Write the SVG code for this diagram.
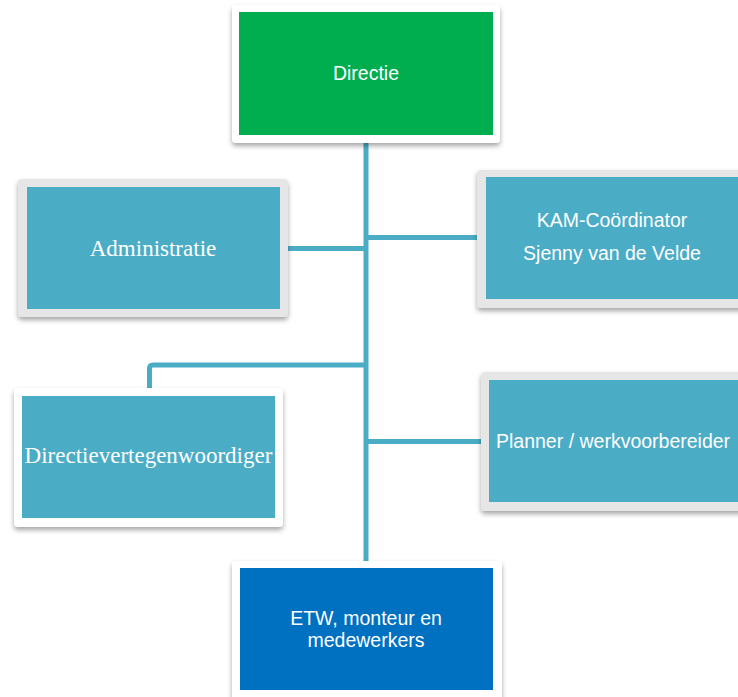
<svg xmlns="http://www.w3.org/2000/svg" width="738" height="697" viewBox="0 0 738 697">
<defs>
<filter id="sh" x="-10%" y="-10%" width="120%" height="130%">
<feDropShadow dx="0" dy="3" stdDeviation="2.5" flood-color="#000" flood-opacity="0.35"/>
</filter>
<style>
.cw{fill:#ffffff;filter:url(#sh)}
.cg{fill:#e6e6e6;filter:url(#sh)}
.teal{fill:#4bacc6}
.t{fill:#ffffff;font-family:"Liberation Sans",Arial,sans-serif;font-size:19.5px;text-anchor:middle}
.ts{fill:#ffffff;font-family:"Liberation Serif","Times New Roman",serif;font-size:23px;text-anchor:middle}
.ln{stroke:#4bacc6;stroke-width:5;fill:none}
</style>
</defs>
<rect width="738" height="697" fill="#ffffff"/>
<g id="connectors">
<line class="ln" x1="366" y1="140" x2="366" y2="564"/>
<line class="ln" x1="285" y1="248.5" x2="366" y2="248.5"/>
<line class="ln" x1="366" y1="237.5" x2="480" y2="237.5"/>
<path class="ln" d="M366 365 H153 Q149.5 365 149.5 368.5 V392"/>
<line class="ln" x1="366" y1="441.5" x2="484" y2="441.5"/>
</g>
<g id="directie">
<rect class="cw" x="232" y="5" width="268" height="138" rx="4"/>
<rect x="239" y="12" width="254" height="123" fill="#00ad4f"/>
<text class="t" x="366" y="80">Directie</text>
</g>
<g id="administratie">
<rect class="cg" x="18" y="179" width="270" height="138" rx="4"/>
<rect class="teal" x="27" y="187" width="253" height="122"/>
<text class="ts" x="153" y="256">Administratie</text>
</g>
<g id="kam">
<rect class="cg" x="477" y="170" width="280" height="138" rx="4"/>
<rect class="teal" x="486" y="177" width="260" height="122"/>
<text class="t" x="612" y="227">KAM-Coördinator</text>
<text class="t" x="612" y="260">Sjenny van de Velde</text>
</g>
<g id="directievertegenwoordiger">
<rect class="cw" x="14" y="388" width="269" height="139" rx="4"/>
<rect class="teal" x="22" y="396" width="253" height="122"/>
<text class="ts" x="148.5" y="463">Directievertegenwoordiger</text>
</g>
<g id="planner">
<rect class="cg" x="481" y="372" width="280" height="139" rx="4"/>
<rect class="teal" x="489" y="380" width="260" height="122"/>
<text class="t" x="496" y="448" style="text-anchor:start">Planner / werkvoorbereider</text>
</g>
<g id="etw">
<rect class="cw" x="232" y="561" width="270" height="140" rx="4"/>
<rect x="240" y="568" width="253" height="122" fill="#0070c0"/>
<text class="t" x="366" y="625">ETW, monteur en</text>
<text class="t" x="366" y="647">medewerkers</text>
</g>
</svg>
